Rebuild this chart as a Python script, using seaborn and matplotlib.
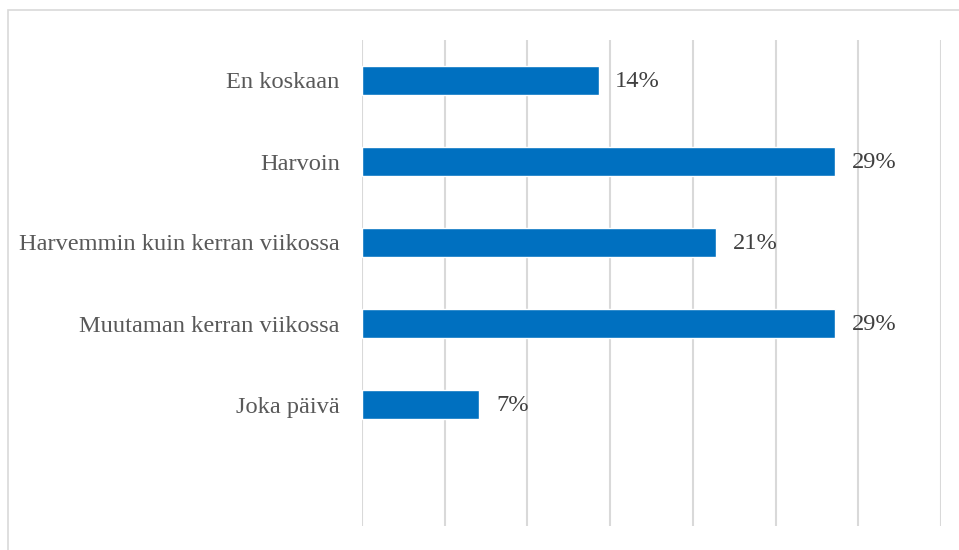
import matplotlib
matplotlib.use('Agg')
import matplotlib.pyplot as plt
import seaborn as sns
import pandas as pd
from matplotlib.patches import Rectangle

# survey answers, top to bottom as shown
categories = ['En koskaan', 'Harvoin', 'Harvemmin kuin kerran viikossa',
              'Muutaman kerran viikossa', 'Joka päivä']
shares = [14.3, 28.6, 21.4, 28.6, 7.1]
value_labels = ['14%', '29%', '21%', '29%', '7%']
grid_ticks = [0, 5, 10, 15, 20, 25, 30, 35]

df = pd.DataFrame({'vastaus': categories, 'osuus': shares})

sns.set_theme(style='white')
plt.rcParams['font.family'] = ['Liberation Serif', 'DejaVu Serif']

fig = plt.figure(figsize=(9.59, 5.5), dpi=100)
ax = fig.add_axes([362 / 959, 1 - 526 / 550, (941 - 362) / 959, (526 - 40) / 550])

sns.barplot(data=df, y='vastaus', x='osuus', order=categories, color='#0070C0',
            saturation=1, width=0.35, ax=ax, orient='h')

ax.set_xlim(0, 35)
ax.set_ylim(5.5, -0.5)
ax.set_xticks(grid_ticks)
ax.set_xticklabels([])
ax.xaxis.grid(True, color='#D9D9D9', linewidth=1.5)
ax.set_axisbelow(True)
ax.tick_params(axis='x', length=0)
ax.tick_params(axis='y', length=0, pad=16, labelsize=17.6, labelcolor='#595959')
ax.set_xlabel('')
ax.set_ylabel('')
for s in ax.spines.values():
    s.set_visible(False)

for i, (v, lab) in enumerate(zip(shares, value_labels)):
    ax.annotate(lab, (v, i), xytext=(12, -1), textcoords='offset points',
                va='center', ha='left', fontsize=17.6, color='#404040')

# chart area border (Excel-like), cut by the image edge
fig.patches.append(Rectangle((8 / 959, -0.1), 1.2, 1 - 10 / 550 + 0.1,
                             transform=fig.transFigure, fill=False,
                             edgecolor='#D9D9D9', linewidth=1.2))

fig.savefig('out.png', dpi=100, facecolor='white')
